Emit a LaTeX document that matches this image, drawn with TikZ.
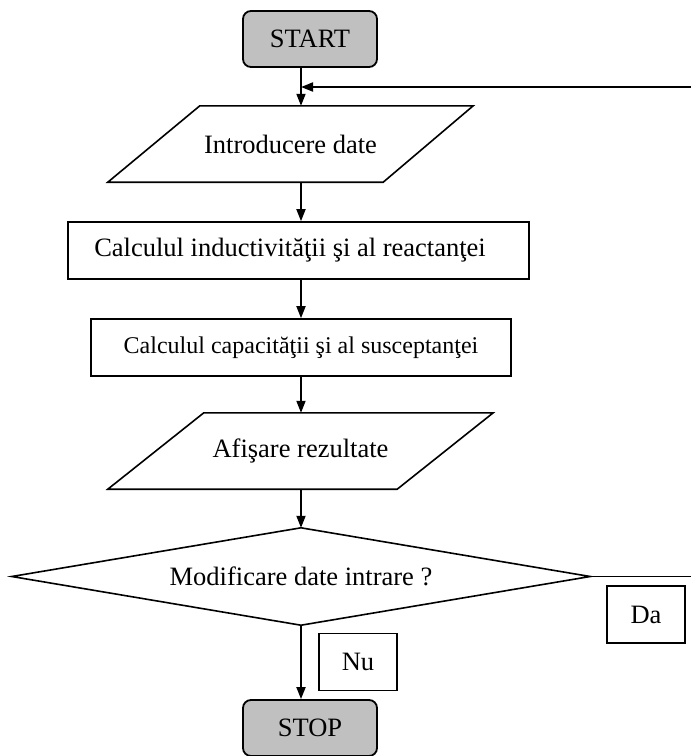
\documentclass[tikz,border=0pt]{standalone}
\usepackage{fontspec}
\setmainfont{Liberation Serif}
\usetikzlibrary{arrows.meta,calc}
\definecolor{termgray}{HTML}{C0C0C0}
\begin{document}
\begin{tikzpicture}[x=1pt,y=-1pt,
  every node/.style={font=\fontsize{26.5}{30}\selectfont},
  term/.style={draw,line width=1.8pt,rounded corners=8pt,fill=termgray,
    minimum width=134pt,minimum height=56pt,inner sep=0pt},
  procbox/.style={draw,line width=1.6pt,inner sep=0pt,minimum height=57pt},
  ghost/.style={inner sep=0pt},
  outline/.style={line width=1.6pt,line join=miter},
  arr/.style={line width=1.8pt,-{Triangle[length=12pt,width=9pt]}},
  tagbox/.style={draw,line width=1.6pt,minimum width=78pt,minimum height=57pt,inner sep=0pt}]
\useasboundingbox (0,0) rectangle (691,756);

% terminals, process boxes and I/O blocks
\node[term] (start) at (310,39) {START};
\coordinate (join) at (301,87);
\coordinate (fb) at (691,87);

\node[ghost,minimum width=365pt,minimum height=76pt] (intro) at (290.5,144) {Introducere date};
\draw[outline] ([xshift=92pt]intro.north west) -- (intro.north east)
  -- ([xshift=-90pt]intro.south east) -- (intro.south west) -- cycle;

\node[procbox,minimum width=461pt] (calcL) at (298.5,250.5) {\hspace*{-17pt}Calculul inductivităţii şi al reactanţei};
\node[procbox,minimum width=420pt,font=\fontsize{24}{28}\selectfont] (calcC) at (301,347.5)
  {Calculul capacităţii şi al susceptanţei};

\node[ghost,minimum width=385pt,minimum height=76pt] (afis) at (300.5,451) {Afişare rezultate};
\draw[outline] ([xshift=96pt]afis.north west) -- (afis.north east)
  -- ([xshift=-96pt]afis.south east) -- (afis.south west) -- cycle;

% decision
\node[ghost,minimum width=578pt,minimum height=97pt] (dec) at (301,576.5) {Modificare date intrare ?};
\draw[outline] (dec.north) -- (dec.east) -- (dec.south) -- (dec.west) -- cycle;
\coordinate (exit) at (691,576.5);
\draw[line width=1.1pt] (dec.east) -- (exit);

\node[tagbox] (da) at (646,614.5) {Da};
\node[tagbox] (nu) at (358,662) {Nu};
\node[term] (stop) at (310,728) {STOP};

% flow
\draw[arr] (join |- start.south) -- (join |- intro.north);
\draw[arr] (fb) -- (join);
\draw[arr] (join |- intro.south) -- (join |- calcL.north);
\draw[arr] (join |- calcL.south) -- (join |- calcC.north);
\draw[arr] (join |- calcC.south) -- (join |- afis.north);
\draw[arr] (join |- afis.south) -- (join |- dec.north);
\draw[arr] (join |- dec.south) -- (join |- stop.north);
\end{tikzpicture}
\end{document}
